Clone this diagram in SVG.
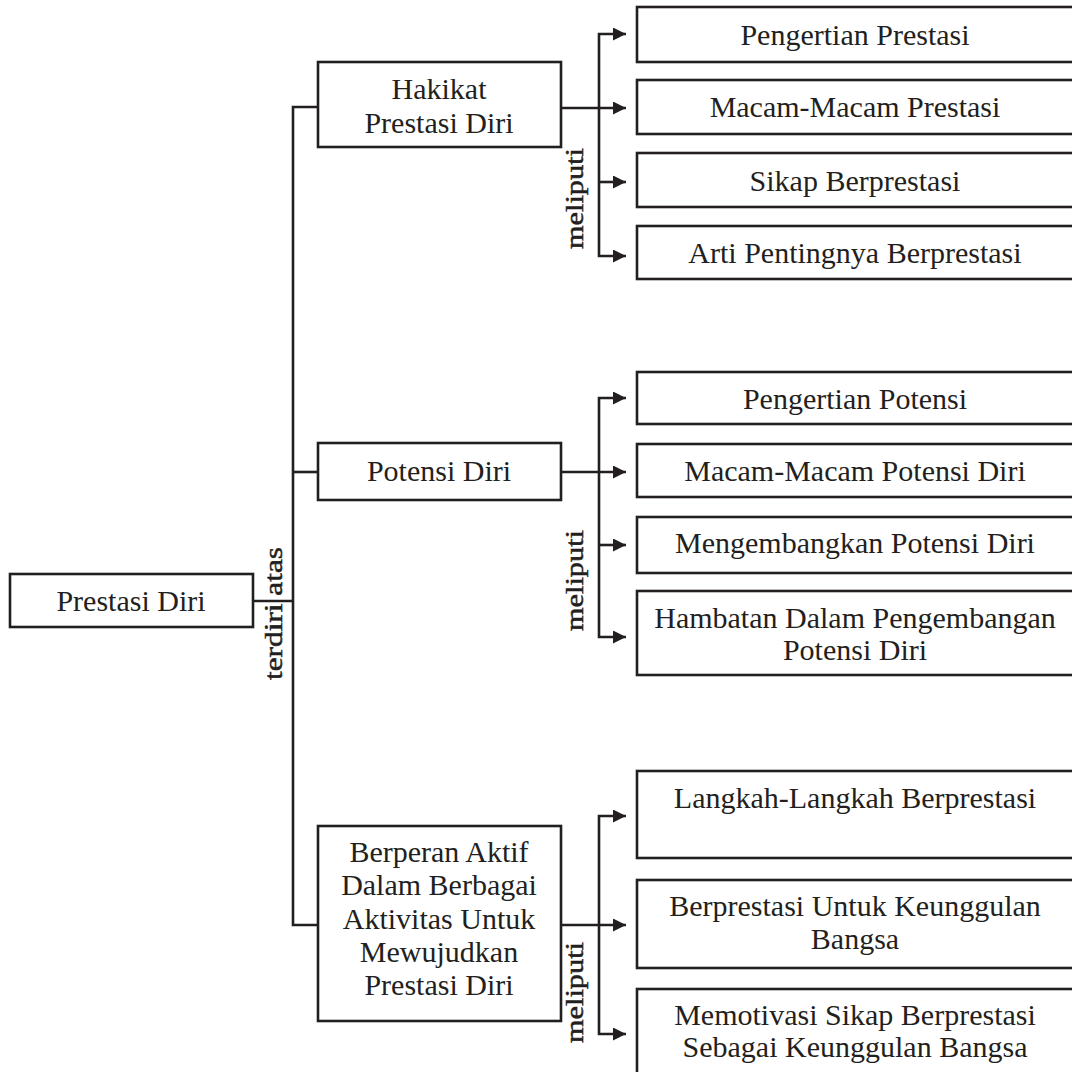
<svg xmlns="http://www.w3.org/2000/svg" width="1072" height="1072" viewBox="0 0 1072 1072">
<defs>
<style>
.box{fill:#fff;stroke:#231f20;stroke-width:2.6}
.t{font-family:"Liberation Serif","Times New Roman",serif;font-size:30px;fill:#231f20;text-anchor:middle}
.lbl{font-family:"Liberation Serif","Times New Roman",serif;font-size:25px;fill:#231f20;stroke:#231f20;stroke-width:0.5}
.ln{fill:none;stroke:#231f20;stroke-width:2.6}
.ar{fill:none;stroke:#231f20;stroke-width:2.6;marker-end:url(#ah)}
</style>
<marker id="ah" markerUnits="userSpaceOnUse" markerWidth="13" markerHeight="13" refX="13" refY="6.5" orient="auto-start-reverse">
<path d="M0,0 L13,6.5 L0,13 z" fill="#231f20"/>
</marker>
</defs>
<rect width="1072" height="1072" fill="#fff"/>

<g id="connectors">
<path class="ln" d="M318,107 H293 V925 H318"/>
<path class="ln" d="M253,601 H293"/>
<path class="ln" d="M293,472 H318"/>

<path class="ar" d="M561,108 H626"/>
<path class="ar" d="M626,34 H599 V256 H626" style="marker-start:url(#ah)"/>
<path class="ar" d="M599,182 H626"/>

<path class="ar" d="M561,472 H626"/>
<path class="ar" d="M626,398 H599 V637 H626" style="marker-start:url(#ah)"/>
<path class="ar" d="M599,545 H626"/>

<path class="ar" d="M561,925 H626"/>
<path class="ar" d="M626,816 H599 V1034 H626" style="marker-start:url(#ah)"/>

<text class="lbl" transform="translate(282,680) rotate(-90)" textLength="133" lengthAdjust="spacingAndGlyphs">terdiri atas</text>
<text class="lbl" transform="translate(583,249) rotate(-90)" textLength="101" lengthAdjust="spacingAndGlyphs">meliputi</text>
<text class="lbl" transform="translate(583,631) rotate(-90)" textLength="101" lengthAdjust="spacingAndGlyphs">meliputi</text>
<text class="lbl" transform="translate(583,1043) rotate(-90)" textLength="101" lengthAdjust="spacingAndGlyphs">meliputi</text>
</g>

<g id="n-root">
<rect class="box" x="10" y="574" width="243" height="53"/>
<text class="t" x="131" y="611">Prestasi Diri</text>
</g>

<g id="n-hakikat">
<rect class="box" x="318" y="62" width="243" height="85"/>
<text class="t" x="439" y="99">Hakikat</text>
<text class="t" x="439" y="133">Prestasi Diri</text>
</g>

<g id="n-potensi">
<rect class="box" x="318" y="443" width="243" height="57"/>
<text class="t" x="439" y="481">Potensi Diri</text>
</g>

<g id="n-berperan">
<rect class="box" x="318" y="826" width="243" height="195"/>
<text class="t" x="439" y="862">Berperan Aktif</text>
<text class="t" x="439" y="895">Dalam Berbagai</text>
<text class="t" x="439" y="929">Aktivitas Untuk</text>
<text class="t" x="439" y="962">Mewujudkan</text>
<text class="t" x="439" y="995">Prestasi Diri</text>
</g>

<g id="n-h1">
<rect class="box" x="637" y="7" width="450" height="55"/>
<text class="t" x="855" y="45">Pengertian Prestasi</text>
</g>
<g id="n-h2">
<rect class="box" x="637" y="80" width="450" height="54"/>
<text class="t" x="855" y="117">Macam-Macam Prestasi</text>
</g>
<g id="n-h3">
<rect class="box" x="637" y="153" width="450" height="54"/>
<text class="t" x="855" y="191">Sikap Berprestasi</text>
</g>
<g id="n-h4">
<rect class="box" x="637" y="226" width="450" height="53"/>
<text class="t" x="855" y="263">Arti Pentingnya Berprestasi</text>
</g>

<g id="n-p1">
<rect class="box" x="637" y="372" width="450" height="52"/>
<text class="t" x="855" y="409">Pengertian Potensi</text>
</g>
<g id="n-p2">
<rect class="box" x="637" y="444" width="450" height="53"/>
<text class="t" x="855" y="481">Macam-Macam Potensi Diri</text>
</g>
<g id="n-p3">
<rect class="box" x="637" y="517" width="450" height="56"/>
<text class="t" x="855" y="553">Mengembangkan Potensi Diri</text>
</g>
<g id="n-p4">
<rect class="box" x="637" y="591" width="450" height="84"/>
<text class="t" x="855" y="628">Hambatan Dalam Pengembangan</text>
<text class="t" x="855" y="660">Potensi Diri</text>
</g>

<g id="n-b1">
<rect class="box" x="637" y="771" width="450" height="87"/>
<text class="t" x="855" y="808">Langkah-Langkah Berprestasi</text>
</g>
<g id="n-b2">
<rect class="box" x="637" y="880" width="450" height="88"/>
<text class="t" x="855" y="916">Berprestasi Untuk Keunggulan</text>
<text class="t" x="855" y="949">Bangsa</text>
</g>
<g id="n-b3">
<rect class="box" x="637" y="989" width="450" height="110"/>
<text class="t" x="855" y="1025">Memotivasi Sikap Berprestasi</text>
<text class="t" x="855" y="1057">Sebagai Keunggulan Bangsa</text>
</g>
</svg>
